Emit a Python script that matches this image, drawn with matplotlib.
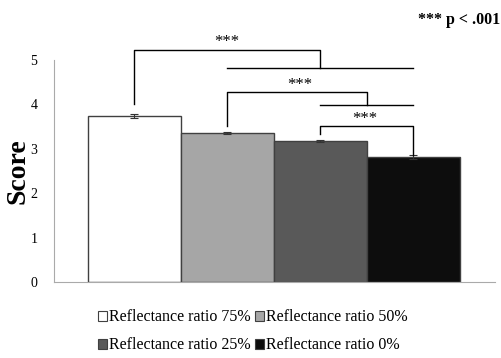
import matplotlib.pyplot as plt
from matplotlib.patches import Patch

groups = ['Reflectance ratio 75%', 'Reflectance ratio 50%',
          'Reflectance ratio 25%', 'Reflectance ratio 0%']
scores = [3.74, 3.36, 3.18, 2.81]
errors = [0.05, 0.02, 0.02, 0.04]
colors = ['#ffffff', '#a6a6a6', '#595959', '#0d0d0d']
yticks = [0, 1, 2, 3, 4, 5]

plt.rcParams['font.family'] = ['Liberation Serif', 'DejaVu Serif']

fig = plt.figure(figsize=(5.02, 3.58), dpi=100)
ax = fig.add_axes([0.1076, 0.2123, 0.8784, 0.620])

x = list(range(len(groups)))
ax.bar(x, scores, width=1.0, color=colors, edgecolor='#404040', linewidth=1.0)
ax.errorbar(x, scores, yerr=errors, fmt='none', ecolor='#333333',
            elinewidth=0.8, capsize=3, capthick=0.8)

ax.set_xlim(-0.86, 3.88)
ax.set_ylim(0, 5)
ax.set_yticks(yticks)
ax.set_yticklabels([str(t) for t in yticks], fontsize=10)
ax.set_xticks([])
ax.tick_params(axis='y', length=0, pad=12)
for s in ['top', 'right']:
    ax.spines[s].set_visible(False)
ax.spines['left'].set_color('#aaaaaa')
ax.spines['bottom'].set_color('#aaaaaa')
ax.set_ylabel('Score', fontsize=20, fontweight='bold', labelpad=0)

# significance brackets
lw = 1.0
kw = dict(color='black', linewidth=lw, clip_on=False)
# 75% vs rest
ax.plot([1, 3], [4.81, 4.81], **kw)
ax.plot([0, 0, 2, 2], [4.02, 5.23, 5.23, 4.81], **kw)
ax.text(1, 5.22, '***', ha='center', va='bottom', fontsize=12)
# 50% vs 25%/0%
ax.plot([2, 3], [3.99, 3.99], **kw)
ax.plot([1, 1, 2.5, 2.5], [3.51, 4.28, 4.28, 3.99], **kw)
ax.text(1.78, 4.26, '***', ha='center', va='bottom', fontsize=12)
# 25% vs 0%
ax.plot([2, 2, 3, 3], [3.33, 3.52, 3.52, 2.87], **kw)
ax.text(2.48, 3.5, '***', ha='center', va='bottom', fontsize=12)

fig.text(0.997, 0.945, '*** p < .001', ha='right', va='center',
         fontsize=11.5, fontweight='bold')

# legend is filled column-wise, so order entries to read row by row
order = [0, 2, 1, 3]
handles = [Patch(facecolor=colors[i], edgecolor='#404040', linewidth=0.8) for i in order]
labels = [groups[i] for i in order]
fig.legend(handles, labels, loc='upper left', bbox_to_anchor=(0.195, 0.136),
           ncol=2, frameon=False, fontsize=11.5, handlelength=0.6,
           handleheight=0.6, handletextpad=0.1, columnspacing=0.25,
           labelspacing=0.75, borderaxespad=0, borderpad=0)

fig.savefig('out.png', dpi=100)
